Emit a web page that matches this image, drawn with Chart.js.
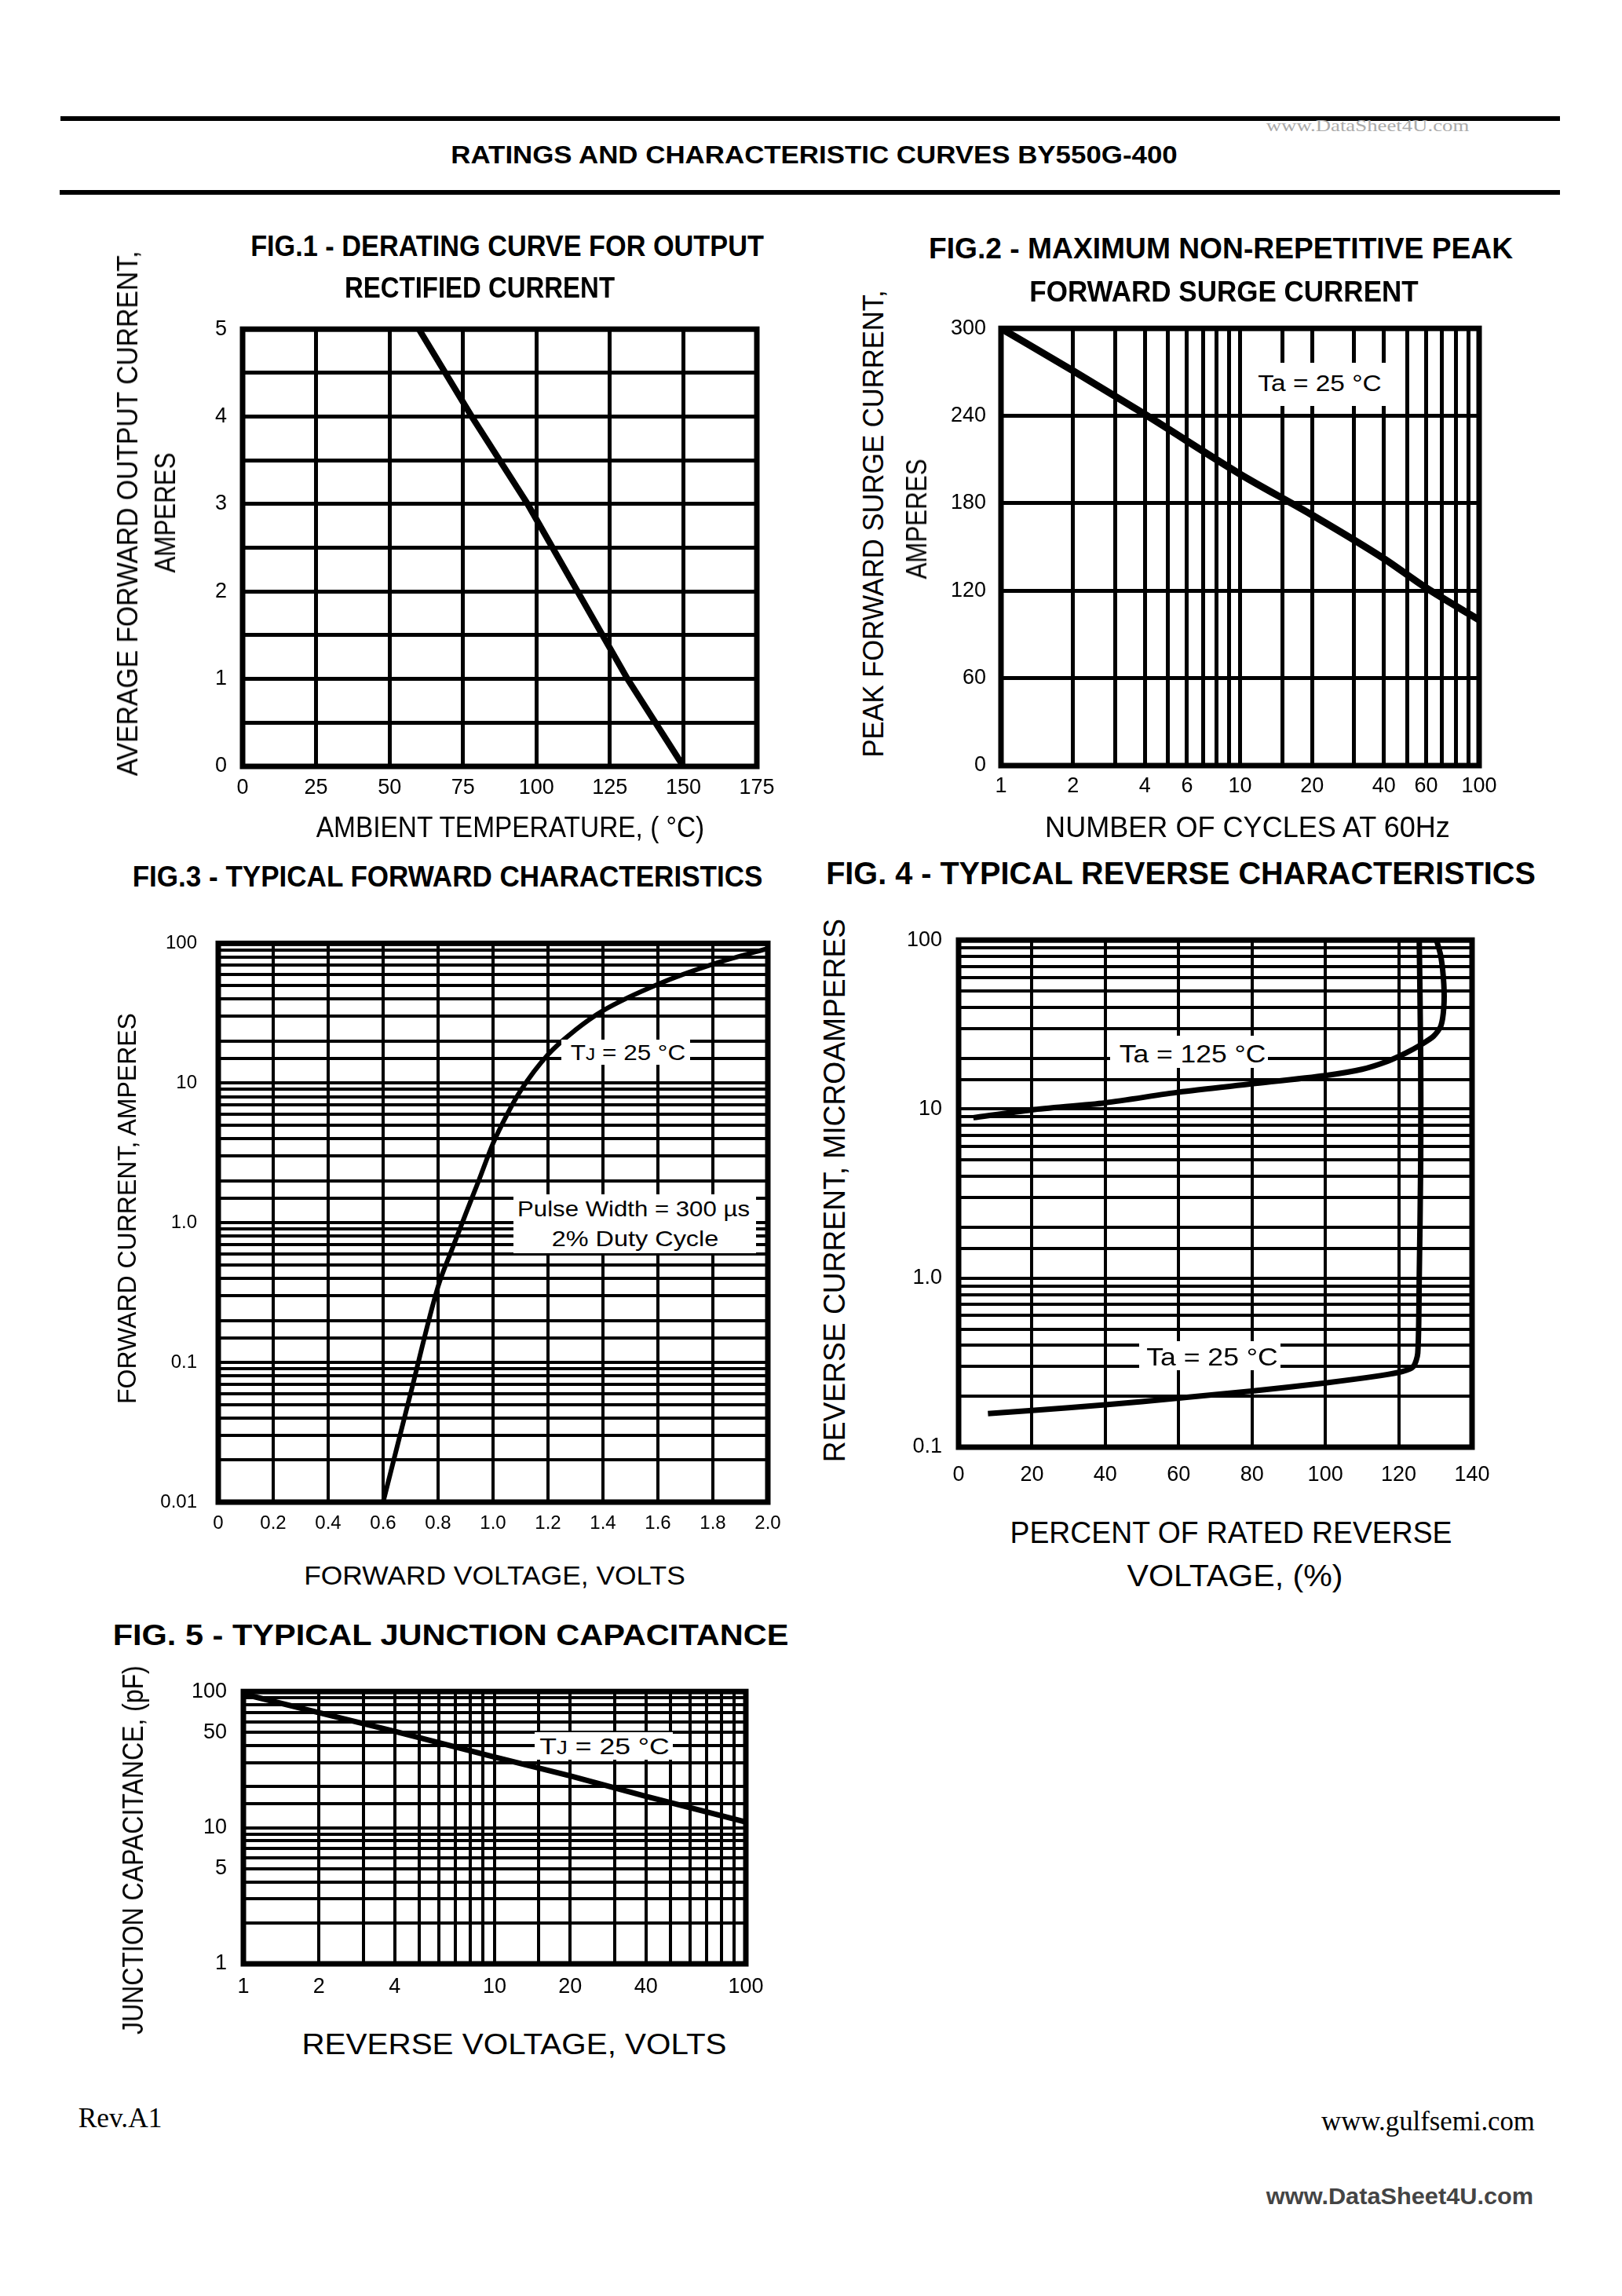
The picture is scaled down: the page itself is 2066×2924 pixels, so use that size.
<!DOCTYPE html>
<html>
<head>
<meta charset="utf-8">
<script src="https://cdn.jsdelivr.net/npm/chart.js@4.4.1/dist/chart.umd.min.js"></script>
<style>
  html,body{margin:0;padding:0;background:#fff;}
  body{position:relative;width:2066px;height:2924px;overflow:hidden;font-family:"Liberation Sans",Arial,sans-serif;}
  .t{position:absolute;white-space:nowrap;color:#000;line-height:1;z-index:5;}
  .t .sub{font-size:0.78em;}
  .box{position:absolute;background:#fff;z-index:4;}
  .rule{position:absolute;background:#000;}
  canvas{position:absolute;z-index:1;}
</style>
</head>
<body>
<div class="rule" style="left:77px;top:148px;width:1910px;height:6px;"></div>
<div class="rule" style="left:76px;top:242px;width:1911px;height:6px;"></div>
<script>
// ---------------- DATA ----------------
// Fig.1 derating curve
const fig1Temperature = [60, 78, 97, 114, 131, 150];
const fig1Current     = [5, 4, 3, 2, 1, 0];
const fig1YLabels     = [0, 1, 2, 3, 4, 5];

// Fig.2 surge current
const fig2Cycles  = [1, 2, 4, 10, 20, 40, 60, 100];
const fig2Surge   = [300, 271, 241, 200, 172, 142, 122, 100];
const fig2XLabels = [1, 2, 4, 6, 10, 20, 40, 60, 100];

// Fig.3 forward characteristics
const fig3Voltage = [0.6, 0.7, 0.8, 0.85, 0.9, 0.95, 1.0, 1.05, 1.1, 1.2, 1.3, 1.4, 1.6, 1.8, 2.0];
const fig3Current = [0.01, 0.06, 0.35, 0.64, 1.15, 2.05, 3.7, 5.9, 8.8, 16, 24, 33, 51, 71, 92];
const fig3YLabels = [0.01, 0.1, 1, 10, 100];
const fig3YText   = ["0.01", "0.1", "1.0", "10", "100"];

// Fig.4 reverse characteristics
const fig4HotPercent  = [4, 20, 40, 60, 80, 100, 110, 117, 122, 126, 129.5, 131.5, 132.3, 132.3, 131.5, 130.3];
const fig4HotCurrent  = [8.9, 9.9, 10.9, 12.6, 14.1, 15.8, 17.2, 19.2, 21.5, 24, 27, 31, 40, 55, 80, 100];
const fig4RoomPercent = [8, 20, 40, 60, 80, 100, 115, 121, 124, 125.2, 125.6, 126, 126, 125.6];
const fig4RoomCurrent = [0.158, 0.165, 0.178, 0.195, 0.215, 0.24, 0.265, 0.28, 0.3, 0.36, 1, 5, 20, 100];
const fig4YLabels = [0.1, 1, 10, 100];
const fig4YText   = ["0.1", "1.0", "10", "100"];

// Fig.5 junction capacitance
const fig5Voltage     = [1, 2, 4, 10, 20, 40, 100];
const fig5Capacitance = [96, 70, 51, 33, 24, 17, 11];
const fig5XLabels = [1, 2, 4, 10, 20, 40, 100];
const fig5YLabels = [1, 5, 10, 50, 100];

// ---------------- HELPERS ----------------
const FONT = '"Liberation Sans", Arial, sans-serif';
function near(v, t){ return Math.abs(v - t) <= 1e-6 * Math.max(1, Math.abs(t)); }
function pickLabel(list, texts){
  return function(v){
    for (let i = 0; i < list.length; i++) if (near(v, list[i])) return texts ? texts[i] : String(list[i]);
    return '';
  };
}
function pts(xs, ys){ return xs.map((x, i) => ({x: x, y: ys[i]})); }

function txt(s, cx, cy, size, o){
  o = o || {};
  const el = document.createElement('div');
  el.className = 't';
  if (o.parts) {
    o.parts.forEach(p => {
      const sp = document.createElement('span');
      sp.textContent = p[0];
      if (p[1]) sp.className = p[1];
      el.appendChild(sp);
    });
  } else {
    el.textContent = s;
  }
  el.style.font = (o.bold ? 'bold ' : '') + size + 'px ' + (o.family || FONT);
  el.style.lineHeight = '1';
  if (o.color) el.style.color = o.color;
  document.body.appendChild(el);
  const nat = el.offsetWidth;
  const sx = o.w ? o.w / nat : 1;
  el.style.left = cx + 'px';
  el.style.top = cy + 'px';
  el.style.transform = 'translate(-50%,-50%) rotate(' + (o.rot || 0) + 'deg) scaleX(' + sx + ')';
}
function whiteBox(l, t, r, b){
  const el = document.createElement('div');
  el.className = 'box';
  el.style.cssText = 'left:' + l + 'px;top:' + t + 'px;width:' + (r - l) + 'px;height:' + (b - t) + 'px;';
  document.body.appendChild(el);
}

function makeChart(box, xScale, yScale, datasets, gridW, frameW){
  const padL = 130, padT = 30, padR = 50, padB = 70;
  const W = box.r - box.l, H = box.b - box.t;
  const c = document.createElement('canvas');
  c.width = W + padL + padR;
  c.height = H + padT + padB;
  c.style.left = (box.l - padL) + 'px';
  c.style.top = (box.t - padT) + 'px';
  c.style.width = c.width + 'px';
  c.style.height = c.height + 'px';
  document.body.appendChild(c);
  const frame = {
    id: 'frame',
    beforeDatasetsDraw(chart){
      const a = chart.chartArea, ctx = chart.ctx;
      ctx.save();
      ctx.strokeStyle = '#000';
      ctx.lineWidth = frameW;
      ctx.strokeRect(a.left, a.top, a.right - a.left, a.bottom - a.top);
      ctx.restore();
    }
  };
  const gridBase = {color: '#000', lineWidth: gridW, drawTicks: false};
  new Chart(c, {
    type: 'line',
    data: {datasets: datasets},
    options: {
      responsive: false, animation: false, devicePixelRatio: 1,
      layout: {padding: {left: 0, top: padT, right: padR, bottom: 0}},
      plugins: {legend: {display: false}, tooltip: {enabled: false}},
      elements: {point: {radius: 0}},
      scales: {
        x: Object.assign({position: 'bottom', grid: gridBase, border: {display: false},
          afterFit: s => { s.height = padB; }}, xScale),
        y: Object.assign({position: 'left', grid: gridBase, border: {display: false},
          afterFit: s => { s.width = padL; }}, yScale)
      }
    },
    plugins: [frame]
  });
}
function tickOpts(size, pad, cb){
  return {font: {family: FONT, size: size}, color: '#000', padding: pad, autoSkip: false, maxRotation: 0, minRotation: 0, callback: cb};
}
function curve(xs, ys, w, extra){
  return Object.assign({data: pts(xs, ys), borderColor: '#000', borderWidth: w, pointRadius: 0, fill: false, tension: 0}, extra || {});
}

// ---------------- PAGE TEXT ----------------
txt('www.DataSheet4U.com', 1742, 160, 22, {family: '"Liberation Serif", serif', color: '#aaa', w: 258});
txt('RATINGS AND CHARACTERISTIC CURVES BY550G-400', 1037, 197, 32, {bold: true, w: 925});
txt('Rev.A1', 153, 2697, 35, {family: '"Liberation Serif", serif', w: 107});
txt('www.gulfsemi.com', 1819, 2701, 35, {family: '"Liberation Serif", serif', w: 272});
txt('www.DataSheet4U.com', 1783, 2797, 30, {bold: true, color: '#444', w: 340});

// ---------------- FIG 1 ----------------
txt('FIG.1 - DERATING CURVE FOR OUTPUT', 646, 314, 36, {bold: true, w: 654});
txt('RECTIFIED CURRENT', 611, 367, 36, {bold: true, w: 344});
txt('AMBIENT TEMPERATURE, ( \u00B0C)', 650, 1054, 36, {w: 494});
txt('AVERAGE FORWARD OUTPUT CURRENT,', 163, 654, 36, {w: 669, rot: -90});
txt('AMPERES', 211, 653, 36, {w: 153, rot: -90});
makeChart({l: 309, t: 413, r: 964, b: 976},
  {type: 'linear', min: 0, max: 175, ticks: Object.assign(tickOpts(27, 11, v => String(v)), {stepSize: 25})},
  {type: 'linear', min: 0, max: 5, ticks: Object.assign(tickOpts(27, 20, pickLabel(fig1YLabels)), {stepSize: 0.5})},
  [curve(fig1Temperature, fig1Current, 8)], 5, 7);

// ---------------- FIG 2 ----------------
txt('FIG.2 - MAXIMUM NON-REPETITIVE PEAK', 1555, 317, 36, {bold: true, w: 744});
txt('FORWARD SURGE CURRENT', 1559, 372, 36, {bold: true, w: 495});
txt('NUMBER OF CYCLES AT 60Hz', 1589, 1054, 36, {w: 516});
txt('PEAK FORWARD SURGE CURRENT,', 1113, 667, 36, {w: 595, rot: -90});
txt('AMPERES', 1168, 661, 36, {w: 153, rot: -90});
makeChart({l: 1275, t: 413, r: 1884, b: 975},
  {type: 'logarithmic', min: 1, max: 100, ticks: tickOpts(27, 10, pickLabel(fig2XLabels))},
  {type: 'linear', min: 0, max: 300, ticks: Object.assign(tickOpts(27, 19, v => String(v)), {stepSize: 60})},
  [curve(fig2Cycles, fig2Surge, 9, {cubicInterpolationMode: 'monotone'})], 5, 7);
whiteBox(1588, 462, 1772, 517);
txt('Ta = 25 \u00B0C', 1681, 488, 30, {w: 157});

// ---------------- FIG 3 ----------------
txt('FIG.3 - TYPICAL FORWARD CHARACTERISTICS', 570, 1116, 37, {bold: true, w: 803});
txt('FORWARD VOLTAGE, VOLTS', 630, 2006, 34, {w: 486});
txt('FORWARD CURRENT,  AMPERES', 161, 1539, 34, {w: 498, rot: -90});
makeChart({l: 278, t: 1190, r: 978, b: 1913},
  {type: 'linear', min: 0, max: 2, ticks: Object.assign(tickOpts(24, 13, v => (Math.abs(v) < 1e-9 ? '0' : v.toFixed(1))), {stepSize: 0.2})},
  {type: 'logarithmic', min: 0.01, max: 100, ticks: tickOpts(24, 27, pickLabel(fig3YLabels, fig3YText))},
  [curve(fig3Voltage, fig3Current, 6, {cubicInterpolationMode: 'monotone'})], 4, 7);
whiteBox(715, 1324, 879, 1356);
txt('', 800, 1341, 28, {w: 146, parts: [['T'], ['J', 'sub'], [' = 25 \u00B0C']]});
whiteBox(654, 1521, 963, 1596);
txt('Pulse Width = 300 \u00B5s', 807, 1540, 28, {w: 296});
txt('2% Duty Cycle', 809, 1578, 28, {w: 213});

// ---------------- FIG 4 ----------------
txt('FIG. 4 - TYPICAL REVERSE CHARACTERISTICS', 1504, 1112, 40, {bold: true, w: 904});
txt('PERCENT OF RATED REVERSE', 1568, 1952, 38, {w: 563});
txt('VOLTAGE, (%)', 1573, 2007, 38, {w: 275});
txt('REVERSE CURRENT, MICROAMPERES', 1063, 1516, 38, {w: 692, rot: -90});
makeChart({l: 1221, t: 1190, r: 1875, b: 1843},
  {type: 'linear', min: 0, max: 140, ticks: Object.assign(tickOpts(27, 19, v => String(v)), {stepSize: 20})},
  {type: 'logarithmic', min: 0.1, max: 100, ticks: tickOpts(27, 21, pickLabel(fig4YLabels, fig4YText))},
  [curve(fig4HotPercent, fig4HotCurrent, 7, {tension: 0.25}),
   curve(fig4RoomPercent, fig4RoomCurrent, 7, {tension: 0.25})], 4, 7);
whiteBox(1414, 1319, 1615, 1360);
txt('Ta = 125 \u00B0C', 1519, 1342, 32, {w: 186});
whiteBox(1451, 1708, 1631, 1745);
txt('Ta = 25 \u00B0C', 1544, 1728, 32, {w: 168});

// ---------------- FIG 5 ----------------
txt('FIG. 5 - TYPICAL JUNCTION CAPACITANCE', 574, 2082, 37, {bold: true, w: 861});
txt('REVERSE VOLTAGE, VOLTS', 655, 2604, 36, {w: 541});
txt('JUNCTION CAPACITANCE, (pF)', 170, 2356, 36, {w: 470, rot: -90});
makeChart({l: 310, t: 2147, r: 950, b: 2501},
  {type: 'logarithmic', min: 1, max: 100, ticks: tickOpts(27, 13, pickLabel(fig5XLabels))},
  {type: 'logarithmic', min: 1, max: 100, ticks: tickOpts(27, 21, pickLabel(fig5YLabels))},
  [curve(fig5Voltage, fig5Capacitance, 7)], 4, 7);
whiteBox(681, 2206, 857, 2241);
txt('', 770, 2224, 30, {w: 166, parts: [['T'], ['J', 'sub'], [' = 25 \u00B0C']]});
</script>
</body>
</html>
